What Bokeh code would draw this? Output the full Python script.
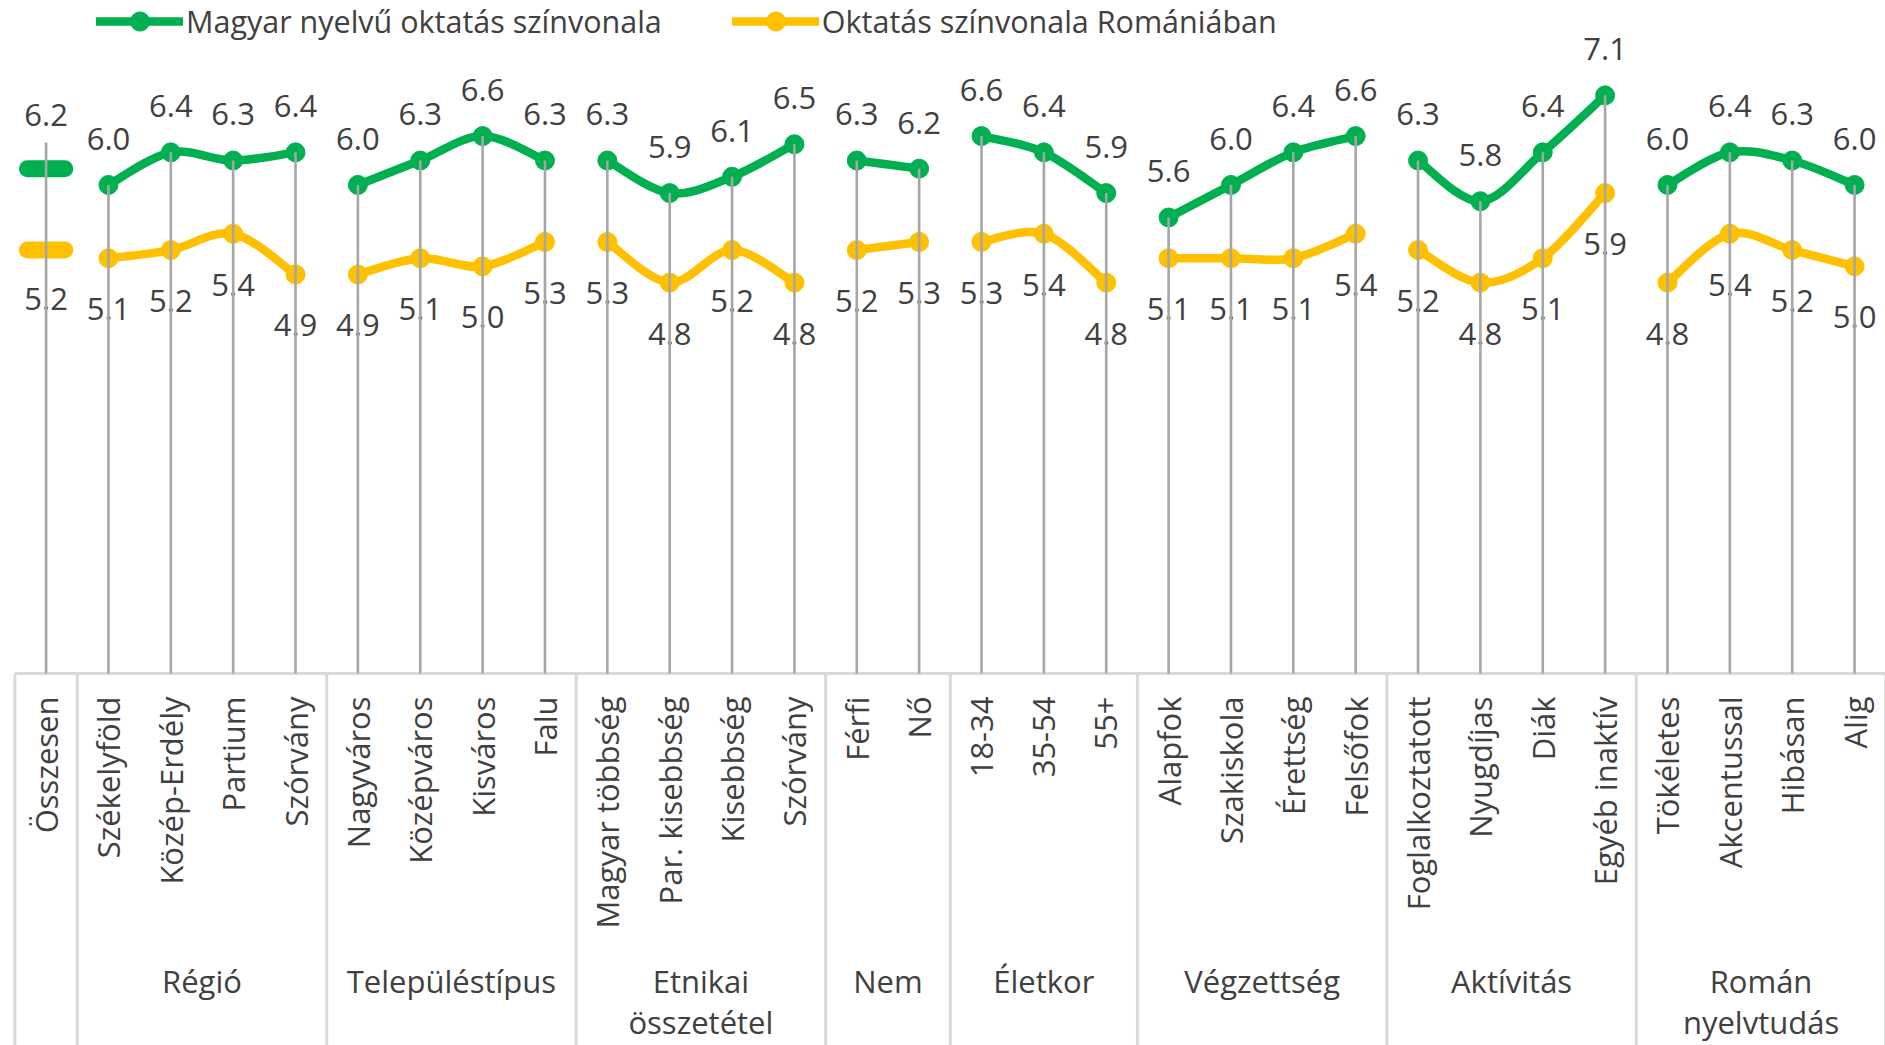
import numpy as np
from bokeh.plotting import figure
from bokeh.models import Range1d, ColumnDataSource, Legend, LegendItem
from bokeh.core.properties import value
from bokeh.embed import file_html
from bokeh.resources import INLINE

# ---------------- data ----------------
categories = [
    "Összesen",
    "Székelyföld", "Közép-Erdély", "Partium", "Szórvány",
    "Nagyváros", "Középváros", "Kisváros", "Falu",
    "Magyar többség", "Par. kisebbség", "Kisebbség", "Szórvány",
    "Férfi", "Nő",
    "18-34", "35-54", "55+",
    "Alapfok", "Szakiskola", "Érettség", "Felsőfok",
    "Foglalkoztatott", "Nyugdíjas", "Diák", "Egyéb inaktív",
    "Tökéletes", "Akcentussal", "Hibásan", "Alig",
]
group_names = ["", "Régió", "Településtípus", "Etnikai\nösszetétel", "Nem",
               "Életkor", "Végzettség", "Aktívitás", "Román\nnyelvtudás"]
group_sizes = [1, 4, 4, 4, 2, 3, 4, 4, 4]

magyar = [6.2,
          6.0, 6.4, 6.3, 6.4,
          6.0, 6.3, 6.6, 6.3,
          6.3, 5.9, 6.1, 6.5,
          6.3, 6.2,
          6.6, 6.4, 5.9,
          5.6, 6.0, 6.4, 6.6,
          6.3, 5.8, 6.4, 7.1,
          6.0, 6.4, 6.3, 6.0]
roman = [5.2,
         5.1, 5.2, 5.4, 4.9,
         4.9, 5.1, 5.0, 5.3,
         5.3, 4.8, 5.2, 4.8,
         5.2, 5.3,
         5.3, 5.4, 4.8,
         5.1, 5.1, 5.1, 5.4,
         5.2, 4.8, 5.1, 5.9,
         4.8, 5.4, 5.2, 5.0]
series_names = ["Magyar nyelvű oktatás színvonala", "Oktatás színvonala Romániában"]

# ---------------- style ----------------
GREEN = "#00B050"
YELLOW = "#FFC000"
TEXT = "#404040"
DROP = "#A6A6A6"
BOX = "#D9D9D9"
FONT = value("Open Sans")

p = figure(width=1885, height=1045,
           x_range=Range1d(-0.731, 29.496), y_range=Range1d(-4.569, 8.265),
           x_axis_type=None, y_axis_type=None,
           toolbar_location=None, output_backend="svg", min_border=0)
p.outline_line_color = None
p.grid.visible = False
p.background_fill_color = "white"

n = len(categories)
xs = np.arange(n, dtype=float)
starts = np.cumsum([0] + group_sizes[:-1])


def smooth_segments(vals):
    x0, y0, x1, y1, cx0, cy0, cx1, cy1 = ([] for _ in range(8))
    for s, size in zip(starts, group_sizes):
        if size < 2:
            continue
        gx = list(xs[s:s + size])
        gy = list(vals[s:s + size])
        m = len(gx)
        for i in range(m - 1):
            a = i - 1 if i > 0 else i
            d = i + 2 if i + 2 < m else i + 1
            x0.append(gx[i]); y0.append(gy[i])
            x1.append(gx[i + 1]); y1.append(gy[i + 1])
            cx0.append(gx[i] + (gx[i + 1] - gx[a]) / 6.0)
            cy0.append(gy[i] + (gy[i + 1] - gy[a]) / 6.0)
            cx1.append(gx[i + 1] - (gx[d] - gx[i]) / 6.0)
            cy1.append(gy[i + 1] - (gy[d] - gy[i]) / 6.0)
    return ColumnDataSource(dict(x0=x0, y0=y0, x1=x1, y1=y1,
                                 cx0=cx0, cy0=cy0, cx1=cx1, cy1=cy1))


multi = np.array([g >= 2 for g, s in zip(group_sizes, starts) for _ in range(s, s + g)])
single = ~multi

# axis line and group boxes
p.segment(x0=[-0.5], x1=[n - 0.5], y0=[0], y1=[0], line_color=BOX, line_width=3)
bounds = [s - 0.5 for s in starts] + [n - 0.5]
p.segment(x0=bounds, x1=bounds, y0=[0] * len(bounds), y1=[-4.7] * len(bounds),
          line_color=BOX, line_width=3)

renderers = {}
for vals, color, key in [(roman, YELLOW, "r"), (magyar, GREEN, "m")]:
    vals = np.array(vals)
    curve = p.bezier(x0="x0", y0="y0", x1="x1", y1="y1", cx0="cx0", cy0="cy0",
                     cx1="cx1", cy1="cy1", source=smooth_segments(vals),
                     line_color=color, line_width=8.5, line_cap="round")
    pts = p.scatter(x=xs[multi], y=vals[multi], size=19, marker="circle",
                    fill_color=color, line_color=color)
    p.segment(x0=xs[single] - 0.3, x1=xs[single] + 0.3, y0=vals[single], y1=vals[single],
              line_color=color, line_width=17, line_cap="round")
    renderers[key] = (curve, pts)

# data labels
fmt = lambda v: f"{v:.1f}"
green_off = np.where(single, -54, -46)
yellow_off = np.where(single, 49, 51)
p.text(x=xs, y=magyar, text=[fmt(v) for v in magyar], y_offset=green_off,
       text_align="center", text_baseline="middle", text_font=FONT,
       text_font_size="31px", text_color=TEXT)
p.text(x=xs, y=roman, text=[fmt(v) for v in roman], y_offset=yellow_off,
       text_align="center", text_baseline="middle", text_font=FONT,
       text_font_size="31px", text_color=TEXT)

# drop lines (on top)
drop_top = np.array(magyar) + np.where(single, 0.32, 0.0)
p.segment(x0=xs, x1=xs, y0=drop_top, y1=np.zeros(n), line_color=DROP, line_width=2.6)

# category labels
p.text(x=xs, y=np.zeros(n), text=categories, angle=np.pi / 2, y_offset=23,
       text_align="right", text_baseline="middle", text_font=FONT,
       text_font_size="31px", text_color=TEXT)

# group labels
gx, gy, gt, goff = [], [], [], []
for name, s, size in zip(group_names, starts, group_sizes):
    for j, line in enumerate(name.split("\n")):
        if not line:
            continue
        gx.append(s + (size - 1) / 2.0)
        gy.append(0.0)
        gt.append(line)
        goff.append(308 + 41 * j)
p.text(x=gx, y=gy, text=gt, y_offset=goff, text_align="center", text_baseline="middle",
       text_font=FONT, text_font_size="31px", text_color=TEXT)

legend = Legend(items=[
    LegendItem(label=series_names[0], renderers=list(renderers["m"]), index=0),
    LegendItem(label=series_names[1], renderers=list(renderers["r"]), index=0),
], orientation="horizontal", location=(96, 1000), glyph_width=87, glyph_height=48,
    label_standoff=3, spacing=70, padding=0, margin=0, border_line_color=None,
    background_fill_alpha=0, label_text_font="Open Sans", label_text_font_size="30.5px",
    label_text_color=TEXT, label_text_baseline="middle")
p.add_layout(legend)

open("out.html", "w").write(file_html(p, INLINE))
